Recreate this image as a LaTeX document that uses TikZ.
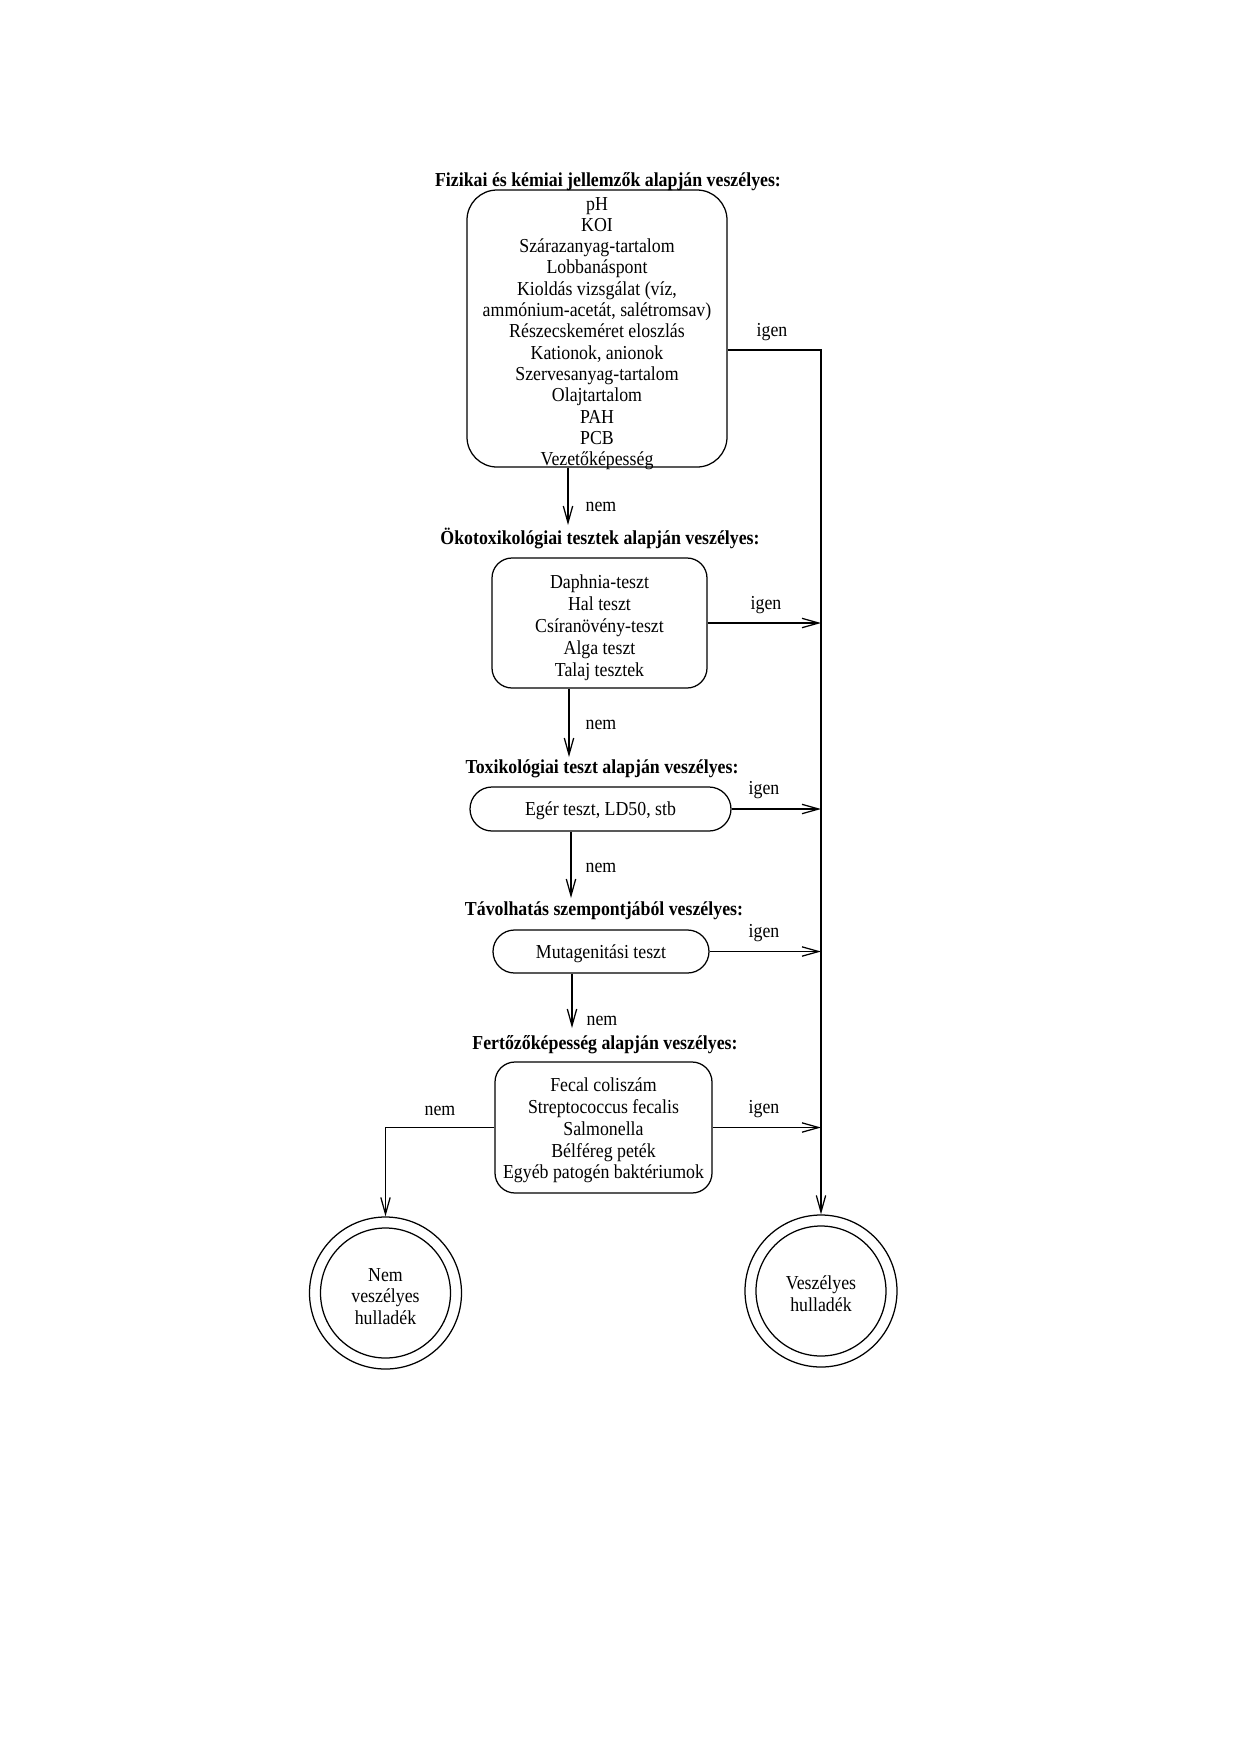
\documentclass[tikz,border=0pt]{standalone}
\usepackage{fontspec}
\setmainfont{Liberation Serif}[FakeStretch=0.9]
\usetikzlibrary{arrows.meta}
\begin{document}
\begin{tikzpicture}[x=0.48pt,y=-0.48pt, line width=0.6pt,
  every node/.style={font=\fontsize{9.5}{10.35}\selectfont, inner sep=0pt},
  ttl/.style={font=\fontsize{9.5}{10.35}\selectfont\bfseries, text height=6.5pt, text depth=0pt},
  lbl/.style={text height=6.5pt, text depth=0pt},
  box/.style={draw, rounded corners=20*0.48pt},
  txt/.style={align=center},
  pill/.style={draw, align=center, text height=6.5pt, text depth=0pt},
  endc/.style={draw, circle, minimum size=152*0.48pt},
  arr/.style={-{Straight Barb[length=8pt,width=4.5pt]}}
]
\useasboundingbox (0,0) rectangle (1241,1755);

% titles
\node[ttl] (T1) at (608,180) {Fizikai és kémiai jellemzők alapján veszélyes:};
\node[ttl] (T2) at (600,538) {Ökotoxikológiai tesztek alapján veszélyes:};
\node[ttl] (T3) at (602,767) {Toxikológiai teszt alapján veszélyes:};
\node[ttl] (T4) at (604,909) {Távolhatás szempontjából veszélyes:};
\node[ttl] (T5) at (605,1043) {Fertőzőképesség alapján veszélyes:};

% boxes
\node[box, rounded corners=30*0.48pt, minimum width=260*0.48pt, minimum height=277*0.48pt] (B1) at (597,328.5) {};
\node[txt, font=\fontsize{9.5}{10.22}\selectfont] (B1t) at ([yshift=-5*0.48pt]B1.center)
  {pH\\KOI\\Szárazanyag-tartalom\\Lobbanáspont\\Kioldás vizsgálat (víz,\\ammónium-acetát, salétromsav)\\Részecskeméret eloszlás\\Kationok, anionok\\Szervesanyag-tartalom\\Olajtartalom\\PAH\\PCB\\Vezetőképesség};
\node[box, minimum width=215*0.48pt, minimum height=130*0.48pt] (B2) at (599.5,623) {};
\node[txt, font=\fontsize{9.5}{10.6}\selectfont] (B2t) at ([yshift=-4.5*0.48pt]B2.center)
  {Daphnia-teszt\\Hal teszt\\Csíranövény-teszt\\Alga teszt\\Talaj tesztek};
\node[pill, rounded corners=22*0.48pt, minimum width=261*0.48pt, minimum height=44*0.48pt] (B3) at (600.5,809)
  {Egér teszt, LD50, stb};
\node[pill, rounded corners=21.5*0.48pt, minimum width=216*0.48pt, minimum height=43*0.48pt] (B4) at (601,951.5)
  {Mutagenitási teszt};
\node[box, minimum width=217*0.48pt, minimum height=131*0.48pt] (B5) at (603.5,1127.5) {};
\node[txt, font=\fontsize{9.5}{10.46}\selectfont] (B5t) at ([yshift=-3*0.48pt]B5.center)
  {Fecal coliszám\\Streptococcus fecalis\\Salmonella\\Bélféreg peték\\Egyéb patogén baktériumok};

% end states
\node[endc] (C1) at (385.5,1293) {};
\draw (C1.center) circle[radius=65*0.48pt];
\node[txt, font=\fontsize{9.5}{10.3}\selectfont] (C1t) at ([yshift=-3.5*0.48pt]C1.center) {Nem\\veszélyes\\hulladék};
\node[endc] (C2) at (821,1291) {};
\draw (C2.center) circle[radius=65*0.48pt];
\node[txt, font=\fontsize{9.5}{10.3}\selectfont] (C2t) at ([yshift=-2.5*0.48pt]C2.center) {Veszélyes\\hulladék};

% "nem" connectors
\coordinate (t2) at (568,525);
\coordinate (t3) at (569,757);
\coordinate (t4) at (571,898);
\coordinate (t5) at (572,1028);
\draw[arr] (B1.south -| t2) -- (t2);
\draw[arr] (B2.south -| t3) -- (t3);
\draw[arr] (B3.south -| t4) -- (t4);
\draw[arr] (B4.south -| t5) -- (t5);
\node[lbl] (n1) at (601,505) {nem};
\node[lbl] (n2) at (601,723) {nem};
\node[lbl] (n3) at (601,866) {nem};
\node[lbl] (n4) at (602,1019) {nem};

% "igen" connectors
\coordinate (R) at (821,350);
\draw[arr] (B1.east |- R) -- (R) -- (C2.north);
\draw[arr] (B2.east) -- (B2.east -| R);
\draw[arr] (B3.east) -- (B3.east -| R);
\draw[arr] (B4.east) -- (B4.east -| R);
\draw[arr] (B5.east) -- (B5.east -| R);
\node[lbl] (i1) at (772,330) {igen};
\node[lbl] (i2) at (766,603) {igen};
\node[lbl] (i3) at (764,788) {igen};
\node[lbl] (i4) at (764,931) {igen};
\node[lbl] (i5) at (764,1107) {igen};

% final "nem"
\draw[arr] (B5.west) -- (B5.west -| C1) -- (C1.north);
\node[lbl] (n5) at (440,1109) {nem};
\end{tikzpicture}
\end{document}
